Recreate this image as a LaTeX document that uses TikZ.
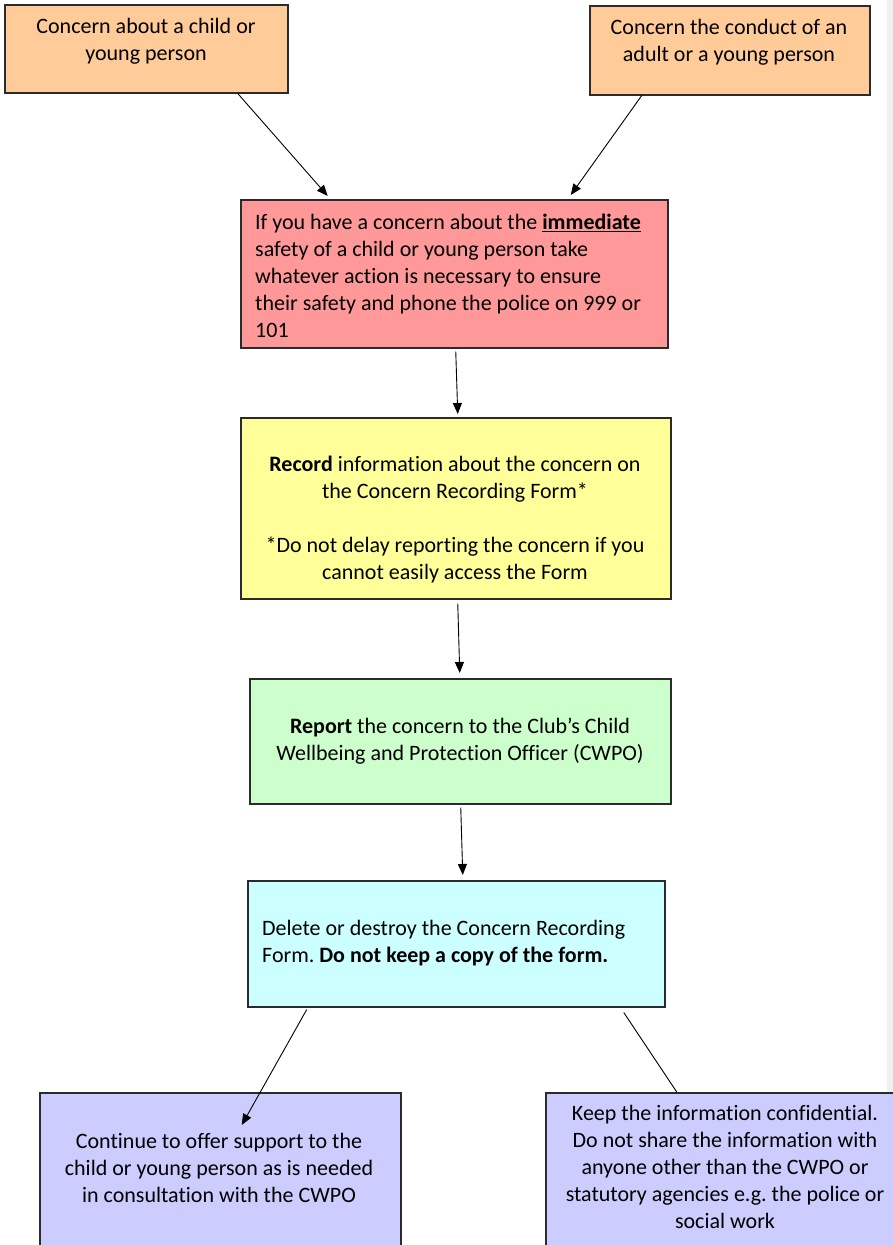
\documentclass[tikz,border=0pt]{standalone}
\usepackage{fontspec}
\setmainfont{Carlito}[Ligatures={NoCommon}]
\frenchspacing
\usetikzlibrary{arrows.meta}
\definecolor{cOrange}{HTML}{FFCC99}
\definecolor{cRed}{HTML}{FF9999}
\definecolor{cYellow}{HTML}{FFFF99}
\definecolor{cGreen}{HTML}{CCFFCC}
\definecolor{cCyan}{HTML}{CCFFFF}
\definecolor{cPurple}{HTML}{CCCCFF}
\definecolor{cStrip}{HTML}{F0F0F0}
\definecolor{cBorder}{HTML}{2B2B2B}
\tikzset{
  box/.style={draw=cBorder, line width=1.5pt, rectangle, anchor=north west, inner sep=0pt},
  txt/.style={font=\fontsize{22}{27}\selectfont, inner sep=0pt, text=black},
  conn/.style={line width=0.9pt, draw=black},
  arr/.style={conn, -{Triangle[length=11pt,width=9pt]}},
}
\begin{document}
\begin{tikzpicture}[x=1pt,y=-1pt]
\clip (0,0) rectangle (893,1245);
\fill[cStrip] (887,0) rectangle (893,1245);

% boxes
\node[box, fill=cOrange, minimum width=283, minimum height=88] (A) at (4,4) {};
\node[box, fill=cOrange, minimum width=280, minimum height=89] (B) at (589,5) {};
\node[box, fill=cRed, minimum width=427, minimum height=148] (R) at (240,199) {};
\node[box, fill=cYellow, minimum width=430, minimum height=181] (Y) at (240,417) {};
\node[box, fill=cGreen, minimum width=421, minimum height=125] (G) at (249,678) {};
\node[box, fill=cCyan, minimum width=417, minimum height=126] (C) at (247,880) {};
\node[box, fill=cPurple, minimum width=361, minimum height=180] (L) at (39,1092) {};
\node[box, fill=cPurple, minimum width=360, minimum height=180] (K) at (545,1092) {};

% texts
\node[txt, align=center] (tA) at (146,41) {Concern about a child or\\young person};
\node[txt, align=center] (tB) at (729,42) {Concern the conduct of an\\adult or a young person};
\node[txt, align=left, anchor=west] (tR) at (255,276) {If you have a concern about the \textbf{\underline{immediate}}\\safety of a child or young person take\\whatever action is necessary to ensure\\their safety and phone the police on 999 or\\101};
\node[txt, align=center] (tY) at (455,520) {\textbf{Record} information about the concern on\\the Concern Recording Form*\\[27pt]*Do not delay reporting the concern if you\\cannot easily access the Form};
\node[txt, align=center] (tG) at (460,741) {\textbf{Report} the concern to the Club’s Child\\Wellbeing and Protection Officer (CWPO)};
\node[txt, align=left, anchor=west] (tC) at (262,943) {Delete or destroy the Concern Recording\\Form. \textbf{Do not keep a copy of the form.}};
\node[txt, align=center] (tL) at (219,1168) {Continue to offer support to the\\child or young person as is needed\\in consultation with the CWPO};
\node[txt, align=center] (tK) at (725,1167) {Keep the information confidential.\\Do not share the information with\\anyone other than the CWPO or\\statutory agencies e.g. the police or\\social work};

% connectors
\draw[arr] ([xshift=91.5pt]A.south) -- ([xshift=-126.5pt,yshift=3pt]R.north);
\draw[arr] ([xshift=-88pt]B.south) -- ([xshift=116.5pt,yshift=4pt]R.north);
\draw[arr] ([xshift=1.5pt,yshift=-3pt]R.south) -- ([xshift=2pt,yshift=3pt]Y.north);
\draw[arr] ([xshift=2pt,yshift=-4pt]Y.south) -- ([xshift=-0.5pt,yshift=5pt]G.north);
\draw[arr] ([xshift=0.5pt,yshift=-3pt]G.south) -- ([xshift=6.5pt,yshift=5pt]C.north);
\draw[arr] ([xshift=-149.5pt,yshift=-2pt]C.south) -- ([xshift=21.5pt,yshift=-33pt]L.north);
\draw[conn] ([xshift=167.5pt,yshift=-5pt]C.south) -- ([xshift=-49pt]K.north);
\end{tikzpicture}
\end{document}
